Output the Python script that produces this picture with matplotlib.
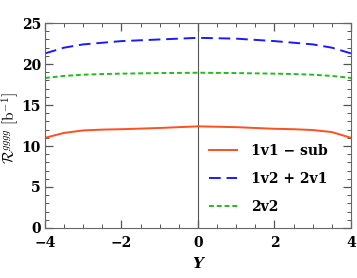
import matplotlib
matplotlib.use('Agg')
import matplotlib.pyplot as plt
import numpy as np
from matplotlib.ticker import MultipleLocator

plt.rcParams['mathtext.fontset'] = 'cm'
plt.rcParams['font.family'] = 'DejaVu Serif'

Y = [-4, -3.5, -3, -2.5, -2, -1, 0, 1, 2, 2.5, 3, 3.5, 4]
r_1v1 = [11.0, 11.6, 11.9, 12.0, 12.05, 12.2, 12.4, 12.3, 12.1, 12.05, 11.95, 11.7, 11.0]
r_1v2 = [21.3, 22.0, 22.4, 22.6, 22.8, 23.0, 23.2, 23.1, 22.8, 22.6, 22.4, 22.0, 21.3]
r_2v2 = [18.3, 18.55, 18.7, 18.78, 18.83, 18.9, 18.94, 18.9, 18.83, 18.78, 18.7, 18.55, 18.3]
labels = ['1v1 − sub', '1v2 + 2v1', '2v2']
xticks = [-4, -2, 0, 2, 4]
yticks = [0, 5, 10, 15, 20, 25]

fig = plt.figure(figsize=(3.57, 2.78), dpi=100)
ax = fig.add_axes([0.126, 0.18, 0.857, 0.737])

ax.axvline(0, color='#555555', lw=0.8, zorder=1)
ax.plot(Y, r_1v1, color='#ff5020', lw=1.4, label=labels[0])
ax.plot(Y, r_1v2, color='#1a1aff', lw=1.4, dashes=(6, 3), label=labels[1])
ax.plot(Y, r_2v2, color='#22bb22', lw=1.4, dashes=(2.5, 1.5), label=labels[2])

ax.set_xlim(-4, 4)
ax.set_ylim(0, 25)
ax.xaxis.set_minor_locator(MultipleLocator(0.5))
ax.yaxis.set_minor_locator(MultipleLocator(1))
ax.set_xticks(xticks)
ax.set_xticklabels(['−4', '−2', '0', '2', '4'], fontweight='bold', fontsize=10)
ax.set_yticks(yticks)
ax.set_yticklabels([str(v) for v in yticks], fontweight='bold', fontsize=10)
ax.tick_params(which='both', direction='in', top=True, right=True, color='#555555')
ax.tick_params(which='major', length=6, width=0.9)
ax.tick_params(axis='x', which='major', pad=6)
ax.tick_params(axis='y', which='major', pad=3)
ax.tick_params(which='minor', length=3, width=0.7)
for s in ax.spines.values():
    s.set_color('#666666')
    s.set_linewidth(0.8)

ax.set_xlabel('Y', fontsize=11, fontweight='bold', fontstyle='italic', labelpad=5)
fig.text(10 / 357, 1 - 128 / 278, r'$\mathcal{R}^{gggg}\ [\mathrm{b}^{-1}]$', fontsize=11,
         rotation=90, ha='center', va='center')

leg = ax.legend(loc='lower right', frameon=False, handlelength=2.0,
          labelspacing=1.0, borderaxespad=0.6, handletextpad=1.0,
          bbox_to_anchor=(0.97, 0.0), prop={'family': 'DejaVu Serif', 'weight': 'bold', 'size': 10})

fig.savefig('out.png', dpi=100)
